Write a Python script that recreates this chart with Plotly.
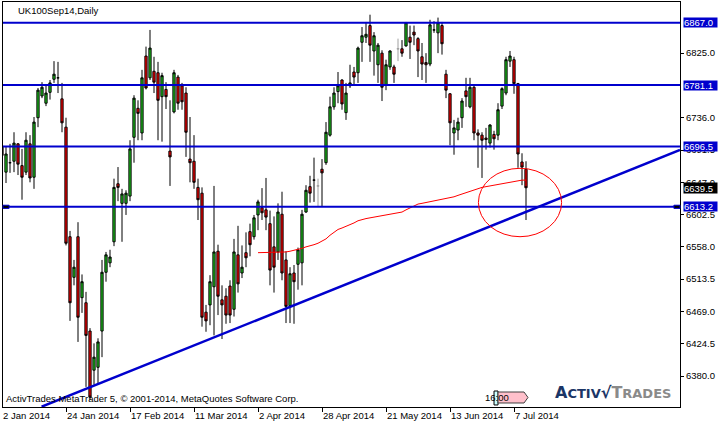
import pandas as pd
import plotly.graph_objects as go

chart_title = "UK100Sep14,Daily"
copyright_text = "ActivTrades MetaTrader 5, © 2001-2014, MetaQuotes Software Corp."

# trading days shown (UK bank holidays skipped)
uk_holidays = ["2014-04-18", "2014-04-21", "2014-05-05", "2014-05-26"]
days = [d.strftime("%Y-%m-%d") for d in pd.bdate_range("2014-01-02", "2014-07-10")
        if d.strftime("%Y-%m-%d") not in uk_holidays]

open_ = [6697, 6661, 6674, 6676, 6700, 6670, 6661, 6700, 6654, 6736,
         6766, 6756, 6771, 6789, 6791, 6762, 6723, 6572, 6516, 6572,
         6488, 6481, 6442, 6388, 6392, 6442, 6523, 6536, 6565, 6645,
         6618, 6618, 6628, 6709, 6749, 6715, 6821, 6791, 6800, 6798,
         6765, 6775, 6690, 6744, 6792, 6780, 6770, 6679, 6676, 6640,
         6632, 6468, 6478, 6503, 6552, 6485, 6490, 6504, 6472, 6547,
         6522, 6550, 6579, 6572, 6602, 6612, 6609, 6590, 6558, 6551,
         6603, 6540, 6477, 6522, 6534, 6536, 6606, 6641, 6650, 6642,
         6665, 6674, 6712, 6751, 6772, 6788, 6743, 6780, 6799, 6798,
         6840, 6847, 6863, 6828, 6809, 6825, 6781, 6806, 6806, 6831,
         6831, 6835, 6847, 6854, 6845, 6820, 6812, 6810, 6857, 6853,
         6863, 6796, 6769, 6715, 6719, 6736, 6773, 6751, 6778, 6715,
         6712, 6708, 6701, 6713, 6712, 6752, 6770, 6814, 6816, 6783,
         6675, 6665]
high = [6709, 6697, 6700, 6716, 6701, 6693, 6716, 6712, 6737, 6777,
        6785, 6782, 6788, 6814, 6813, 6784, 6736, 6580, 6540, 6592,
        6520, 6496, 6446, 6425, 6432, 6540, 6551, 6554, 6652, 6668,
        6638, 6636, 6705, 6767, 6760, 6802, 6834, 6857, 6820, 6813,
        6798, 6785, 6760, 6802, 6795, 6784, 6778, 6737, 6712, 6652,
        6640, 6478, 6519, 6642, 6561, 6505, 6501, 6512, 6569, 6587,
        6560, 6578, 6590, 6602, 6623, 6639, 6653, 6608, 6600, 6618,
        6634, 6552, 6530, 6533, 6557, 6609, 6643, 6656, 6681, 6652,
        6679, 6730, 6765, 6778, 6799, 6789, 6784, 6809, 6806, 6834,
        6861, 6868, 6878, 6854, 6839, 6829, 6816, 6829, 6809, 6845,
        6843, 6868, 6863, 6863, 6847, 6839, 6825, 6871, 6869, 6874,
        6868, 6802, 6770, 6733, 6736, 6763, 6791, 6791, 6781, 6720,
        6716, 6722, 6727, 6718, 6756, 6778, 6820, 6828, 6820, 6784,
        6687, 6676]
low = [6674, 6646, 6660, 6661, 6657, 6623, 6657, 6647, 6638, 6723,
       6763, 6752, 6761, 6784, 6770, 6716, 6560, 6456, 6505, 6427,
       6467, 6365, 6347, 6368, 6370, 6406, 6510, 6530, 6559, 6621,
       6565, 6602, 6621, 6674, 6705, 6705, 6775, 6788, 6770, 6705,
       6703, 6748, 6642, 6742, 6747, 6747, 6682, 6647, 6638, 6595,
       6448, 6441, 6450, 6436, 6464, 6431, 6452, 6453, 6462, 6495,
       6515, 6530, 6545, 6568, 6581, 6595, 6581, 6505, 6495, 6540,
       6512, 6453, 6453, 6452, 6499, 6505, 6605, 6619, 6620, 6613,
       6613, 6671, 6710, 6747, 6756, 6747, 6733, 6777, 6780, 6784,
       6813, 6839, 6813, 6794, 6784, 6759, 6774, 6802, 6784, 6814,
       6820, 6834, 6817, 6836, 6792, 6788, 6784, 6807, 6853, 6825,
       6823, 6763, 6698, 6685, 6705, 6722, 6751, 6749, 6705, 6667,
       6653, 6692, 6695, 6692, 6705, 6748, 6767, 6806, 6769, 6667,
       6643, 6595]
close = [6684, 6686, 6674, 6701, 6672, 6654, 6705, 6653, 6730, 6774,
         6778, 6770, 6784, 6796, 6791, 6729, 6563, 6481, 6530, 6461,
         6510, 6436, 6351, 6406, 6427, 6523, 6547, 6544, 6640, 6640,
         6631, 6632, 6693, 6763, 6742, 6791, 6777, 6832, 6785, 6760,
         6794, 6765, 6682, 6798, 6756, 6758, 6716, 6674, 6647, 6623,
         6461, 6456, 6510, 6551, 6490, 6478, 6464, 6464, 6551, 6507,
         6530, 6543, 6561, 6598, 6620, 6605, 6599, 6526, 6530, 6606,
         6522, 6476, 6521, 6510, 6554, 6603, 6636, 6632, 6650, 6642,
         6660, 6716, 6751, 6770, 6780, 6755, 6770, 6784, 6792, 6832,
         6849, 6851, 6836, 6849, 6836, 6778, 6809, 6828, 6796, 6831,
         6825, 6867, 6840, 6850, 6828, 6810, 6809, 6864, 6857, 6867,
         6838, 6774, 6729, 6722, 6730, 6759, 6765, 6778, 6715, 6712,
         6705, 6706, 6726, 6707, 6747, 6776, 6816, 6821, 6783, 6686,
         6668, 6639.5]
grey_days = ["2014-04-25", "2014-05-27"]

# red moving average, drawn from 2 Apr onwards
ma_start = "2014-04-02"
ma_values = [6550, 6550, 6550, 6550, 6550, 6551, 6551, 6551, 6552, 6553,
             6555, 6556, 6558, 6559, 6561, 6563, 6566, 6569, 6574, 6578,
             6582, 6584, 6586, 6588, 6591, 6594, 6596, 6597, 6598, 6599,
             6600, 6601, 6602, 6603, 6604, 6605, 6606, 6609, 6612, 6614,
             6617, 6618, 6619, 6620, 6621, 6622, 6623, 6624, 6625, 6627,
             6629, 6631, 6633, 6635, 6637, 6638, 6640, 6641, 6642, 6642,
             6643, 6644, 6645, 6647, 6648, 6649, 6650, 6650]

levels = [6867.0, 6781.1, 6696.5, 6613.2]
last_price = 6639.5
trend_x = [9.9, 169.5]
trend_y = [6337.7, 6691.5]
ellipse_x = [119.1, 139.9]
ellipse_y = [6572.0, 6666.3]

y_ticks = [6380.0, 6424.5, 6469.0, 6513.5, 6558.0, 6602.5, 6647.0, 6691.5, 6736.0, 6825.0]
x_tick_days = ["2014-01-02", "2014-01-24", "2014-02-17", "2014-03-11", "2014-04-02",
               "2014-04-28", "2014-05-21", "2014-06-13", "2014-07-07"]
x_tick_text = ["2 Jan 2014", "24 Jan 2014", "17 Feb 2014", "11 Mar 2014", "2 Apr 2014",
               "28 Apr 2014", "21 May 2014", "13 Jun 2014", "7 Jul 2014"]

FONT = "Liberation Sans"
BLUE = "#0000CD"
GREEN = "#1ec81e"
X_RANGE = [0.25, 169.5]

df = pd.DataFrame({"day": days, "open": open_, "high": high, "low": low, "close": close})
normal = df[~df["day"].isin(grey_days)]
grey = df[df["day"].isin(grey_days)]

fig = go.Figure()
fig.add_trace(go.Candlestick(
    x=normal["day"], open=normal["open"], high=normal["high"], low=normal["low"], close=normal["close"],
    increasing=dict(line=dict(color="black", width=1), fillcolor=GREEN),
    decreasing=dict(line=dict(color="black", width=1), fillcolor="red"),
    whiskerwidth=0, showlegend=False, hoverinfo="skip"))
fig.add_trace(go.Candlestick(
    x=grey["day"], open=grey["open"], high=grey["high"], low=grey["low"], close=grey["close"],
    increasing=dict(line=dict(color="#a0a0a0", width=1), fillcolor="#a0a0a0"),
    decreasing=dict(line=dict(color="#a0a0a0", width=1), fillcolor="#a0a0a0"),
    whiskerwidth=0, showlegend=False, hoverinfo="skip"))
fig.add_trace(go.Scatter(x=days[days.index(ma_start):], y=ma_values, mode="lines",
                         line=dict(color="red", width=1), showlegend=False, hoverinfo="skip"))

for lv in levels:
    fig.add_shape(type="line", xref="paper", x0=0, x1=1, y0=lv, y1=lv,
                  line=dict(color=BLUE, width=2))
    fig.add_annotation(xref="paper", x=1, xanchor="left", xshift=3, y=lv, yanchor="middle",
                       text=f"{lv:.1f}", showarrow=False, bgcolor=BLUE, borderpad=0,
                       width=33, height=9, align="left",
                       font=dict(family=FONT, size=9.5, color="white"))

fig.add_shape(type="line", x0=trend_x[0], x1=trend_x[1], y0=trend_y[0], y1=trend_y[1],
              line=dict(color=BLUE, width=2.5))
fig.add_shape(type="circle", x0=ellipse_x[0], x1=ellipse_x[1], y0=ellipse_y[0], y1=ellipse_y[1],
              line=dict(color="red", width=1))

# selection handles on the 6613.2 line
sel = levels[3]
for x0, x1 in [(0, 0.009), (0.991, 1.0)]:
    fig.add_shape(type="rect", xref="paper", x0=x0, x1=x1, y0=sel - 2.2, y1=sel + 2.2,
                  fillcolor="black", line=dict(color=BLUE, width=1))

fig.add_annotation(xref="paper", x=1, xanchor="left", xshift=3, y=last_price, yanchor="middle",
                   text=f"{last_price:.1f}", showarrow=False, bgcolor="black", borderpad=0,
                   width=33, height=10, align="left",
                   font=dict(family=FONT, size=9.5, color="white"))

# x-axis labels start at their tick, MetaTrader style
for d, t in zip(x_tick_days, x_tick_text):
    px = (days.index(d) - X_RANGE[0]) / (X_RANGE[1] - X_RANGE[0])
    fig.add_annotation(xref="paper", x=px, xanchor="left", xshift=-1, yref="paper", y=0,
                       yanchor="top", yshift=-1, text=t, showarrow=False,
                       font=dict(family=FONT, size=9.5, color="black"))

fig.add_annotation(xref="paper", x=0, xanchor="left", xshift=13, yref="paper", y=1,
                   yanchor="top", yshift=-1, text=chart_title, showarrow=False,
                   font=dict(family=FONT, size=9.5, color="black"))
fig.add_annotation(xref="paper", x=0, xanchor="left", xshift=1, yref="paper", y=0,
                   yanchor="bottom", yshift=1, text=copyright_text, showarrow=False,
                   font=dict(family=FONT, size=9.5, color="black"))

# time marker + remaining-time tag
fig.add_shape(type="rect", xref="paper", yref="paper", x0=0.7253, x1=0.7312, y0=0.005, y1=0.0395,
              fillcolor="#ccffff", line=dict(color="black", width=1))
fig.add_shape(type="path", xref="paper", yref="paper",
              path="M 0.7312,0.0099 L 0.7312,0.0370 L 0.7696,0.0370 L 0.7755,0.0235 L 0.7696,0.0099 Z",
              fillcolor="#ffc0cb", line=dict(color="#404040", width=1))
fig.add_annotation(xref="paper", x=0.7500, yref="paper", y=0.0235, yanchor="middle",
                   text="16:00", showarrow=False, font=dict(family=FONT, size=9.5, color="black"))

logo = ("<b><span style='color:#1b3566'>A<span style='font-size:13px'>CTIV</span>√</span>"
        "<span style='color:#8a8a8a'>T<span style='font-size:13px'>RADES</span></span></b>")
fig.add_annotation(xref="paper", x=0.8124, xanchor="left", yref="paper", y=0.037, yanchor="middle",
                   text=logo, showarrow=False, font=dict(family="DejaVu Sans", size=16))

fig.update_xaxes(type="category", categoryorder="array", categoryarray=days,
                 range=X_RANGE, rangeslider_visible=False,
                 showline=True, mirror=True, linecolor="black", linewidth=1,
                 showgrid=False, zeroline=False, ticks="outside", ticklen=4, tickcolor="black",
                 tickmode="array", tickvals=x_tick_days, showticklabels=False)
fig.update_yaxes(side="right", range=[6337.3, 6895.5],
                 showline=True, mirror=True, linecolor="black", linewidth=1,
                 showgrid=False, zeroline=False, ticks="outside", ticklen=3, tickcolor="black",
                 tickmode="array", tickvals=y_ticks, ticktext=[f"{v:.1f}" for v in y_ticks],
                 tickfont=dict(family=FONT, size=9.5, color="black"))
fig.update_layout(width=728, height=428, autosize=False,
                  margin=dict(l=3, r=48, t=2, b=21),
                  plot_bgcolor="white", paper_bgcolor="white",
                  boxgap=0.2, showlegend=False, hovermode=False)

# page body has an 8px default margin; drop it so the figure fills the window
fig.write_html("out.html", config={"displayModeBar": False},
               post_script="document.body.style.margin='0px';")
